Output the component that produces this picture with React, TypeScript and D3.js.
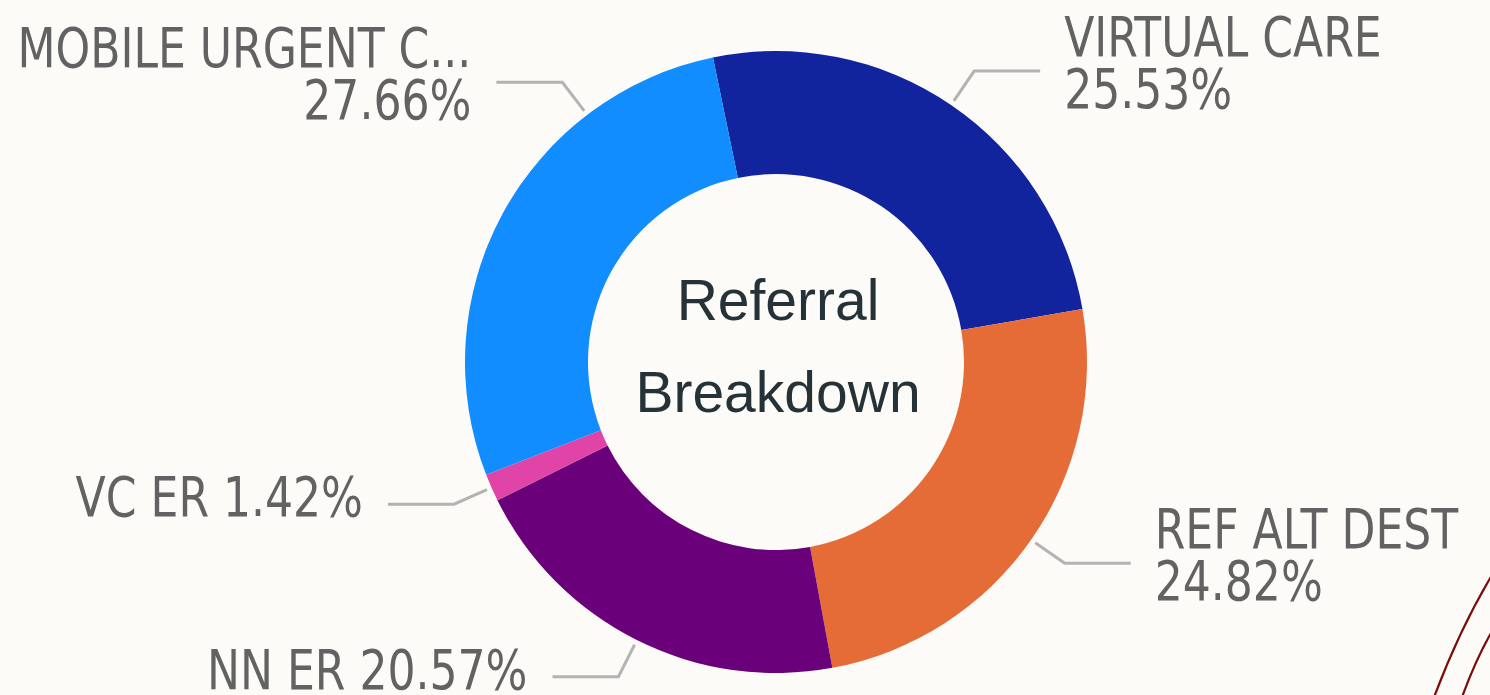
import React, { useEffect, useRef } from 'react';
import * as d3 from 'd3';

// slice order follows the picture, clockwise from just left of 12 o'clock
const categories = ['VIRTUAL CARE', 'REF ALT DEST', 'NN ER', 'VC ER', 'MOBILE URGENT C...'];
const values = [25.53, 24.82, 20.57, 1.42, 27.66];
const colors = ['#12239E', '#E66C37', '#6B007B', '#E044A7', '#118DFF'];
// two-line labels put the percent under the name, the others keep it on one line
const twoLine = [true, true, false, false, true];

const W = 1490;
const H = 695;

function App() {
  const ref = useRef<SVGSVGElement | null>(null);

  useEffect(() => {
    const svg = d3.select(ref.current);
    svg.selectAll('*').remove();

    svg.append('rect').attr('width', W).attr('height', H).attr('fill', '#FDFBF8');

    const cx = 776;
    const cy = 362;
    const outer = 311;
    const inner = 188;

    const start = (-11.7 * Math.PI) / 180;
    const pie = d3.pie<number>().sort(null).value((d) => d)
      .startAngle(start).endAngle(start + 2 * Math.PI);
    const arcs = pie(values);
    const arc = d3.arc<d3.PieArcDatum<number>>().innerRadius(inner).outerRadius(outer);

    const g = svg.append('g').attr('transform', `translate(${cx},${cy})`);
    g.selectAll('path.slice')
      .data(arcs)
      .enter()
      .append('path')
      .attr('class', 'slice')
      .attr('d', arc)
      .attr('fill', (d, i) => colors[i]);

    // condensed look of the DIN labels: squeeze the measured width
    const squeeze = (sel: any) => {
      const node = sel.node() as SVGTextElement | null;
      if (!node) return;
      const len = node.getComputedTextLength();
      sel.attr('textLength', len * 0.875).attr('lengthAdjust', 'spacingAndGlyphs');
    };

    // leader lines + labels
    const pt = (a: number, r: number) => [Math.sin(a) * r, -Math.cos(a) * r];
    arcs.forEach((d, i) => {
      let a = (d.startAngle + d.endAngle) / 2;
      // the mobile label was pushed up to the top-left in the original
      if (i === 4) a = d.endAngle - 0.448;
      const p0 = pt(a, outer + 5);
      const p1 = pt(a, 352);
      const right = Math.sin(a) > 0;
      const p2 = [p1[0] + (right ? 66 : -66), p1[1]];
      g.append('path')
        .attr('d', d3.line()([p0, p1, p2] as [number, number][]))
        .attr('fill', 'none')
        .attr('stroke', '#B3B3B1')
        .attr('stroke-width', 3);

      const tx = p2[0] + (right ? 24 : -25);
      const pct = `${values[i].toFixed(2)}%`;
      const lines = twoLine[i] ? [categories[i], pct] : [`${categories[i]} ${pct}`];
      const ys = twoLine[i] ? [p1[1] - 15, p1[1] + 37] : [p1[1] + 12];
      lines.forEach((s, k) => {
        const t = g.append('text')
          .attr('x', tx)
          .attr('y', ys[k])
          .attr('text-anchor', right ? 'start' : 'end')
          .attr('font-family', '"DejaVu Sans Condensed", "DejaVu Sans", sans-serif')
          .attr('font-size', 56)
          .attr('fill', '#626262')
          .text(s);
        squeeze(t);
      });
    });

    // centre title
    const title = g.append('text')
      .attr('text-anchor', 'middle')
      .attr('font-family', '"Liberation Sans", Arial, sans-serif')
      .attr('font-size', 57)
      .attr('fill', '#253238');
    title.append('tspan').attr('x', 2).attr('y', -42).text('Referral');
    title.append('tspan').attr('x', 2).attr('y', 50).text('Breakdown');

    // slide decoration, bottom right
    svg.append('path')
      .attr('d', 'M1500,562 Q1462,622 1433,700')
      .attr('fill', 'none').attr('stroke', '#7A0C0C').attr('stroke-width', 2.2);
    svg.append('path')
      .attr('d', 'M1500,618 Q1478,652 1461,700')
      .attr('fill', 'none').attr('stroke', '#7A0C0C').attr('stroke-width', 2.2);
  }, []);

  return (
    <svg
      ref={ref}
      width={W}
      height={H}
      style={{ position: 'absolute', left: 0, top: 0, display: 'block' }}
    />
  );
}

export default App;
